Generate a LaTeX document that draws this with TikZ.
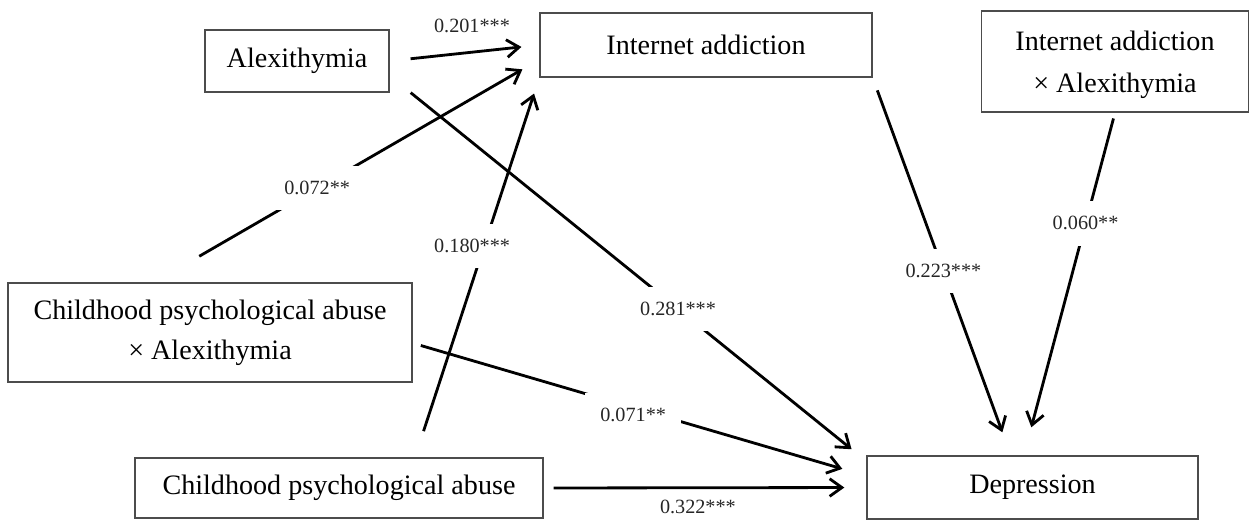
\documentclass[tikz,border=0pt]{standalone}
\usepackage{fontspec}
\setmainfont{Liberation Serif}
\usetikzlibrary{arrows.meta}
\tikzset{%
    var/.style={rectangle, draw=black!70, line width=0.8pt, align=center, inner sep=0pt, font=\fontsize{16}{17.6}\selectfont},
    eff/.style={line width=1.6pt, -{Straight Barb[length=7pt,width=10pt]}},
    coe/.style={font=\fontsize{11.5}{13}\selectfont, text=black!85, inner sep=2pt},
    cut/.style={coe, fill=white, inner sep=0.31cm}
}

\begin{document}
\begin{tikzpicture}[x=0.02cm,y=-0.02cm]
    \useasboundingbox (0,0) rectangle (1250,520);
    \node[var, minimum width=3.68cm, minimum height=1.24cm] (alex) at (297,61) {Alexithymia};
    \node[var, minimum width=6.64cm, minimum height=1.28cm] (ia) at (706,45) {Internet addiction};
    \node[var, minimum width=5.34cm, minimum height=2.02cm] (iaxa) at (1115,61.5) {\rule{0pt}{15pt}Internet addiction\\[6pt]× Alexithymia};
    \node[var, minimum width=8.08cm, minimum height=1.98cm] (cpaxa) at (210,332.5) {Childhood psychological abuse\\[5pt]× Alexithymia};
    \node[var, minimum width=8.16cm, minimum height=1.2cm] (cpa) at (339,488) {Childhood psychological abuse};
    \node[var, minimum width=6.62cm, minimum height=1.26cm] (dep) at (1032.5,487.5) {Depression};
    \draw[eff, shorten <=0.42cm, shorten >=0.36cm] (alex.east) -- (ia.west) node[coe, pos=0.55, above=0.28cm] {0.201***};
    \draw[eff, shorten <=1.04cm, shorten >=0.39cm] (cpaxa.138) -- (ia.185) node[cut, pos=0.423] {0.072**};
    \draw[eff, shorten <=0.55cm, shorten >=0.34cm] (cpa.22) -- (ia.191) node[cut, pos=0.556, xshift=-0.24cm] {0.180***};
    \draw[eff, shorten <=0.54cm, shorten >=0.38cm] (alex.-9) -- (dep.171) node[cut, pos=0.605] {0.281***};
    \draw[eff, shorten <=0.17cm, shorten >=0.5cm] (cpaxa.-3) -- (dep.176) node[cut, pos=0.486, yshift=-0.15cm] {0.071**};
    \draw[eff, shorten <=0.2cm, shorten >=0.44cm] (cpa.east) -- (dep.west) node[coe, pos=0.478, below=0.15cm] {0.322***};
    \draw[eff, shorten <=0.27cm, shorten >=0.49cm] (ia.south east) -- (dep.124) node[cut, pos=0.512] {0.223***};
    \draw[eff, shorten <=0.12cm, shorten >=0.58cm] (iaxa.south) -- (dep.105) node[cut, pos=0.323] {0.060**};
\end{tikzpicture}
\end{document}
